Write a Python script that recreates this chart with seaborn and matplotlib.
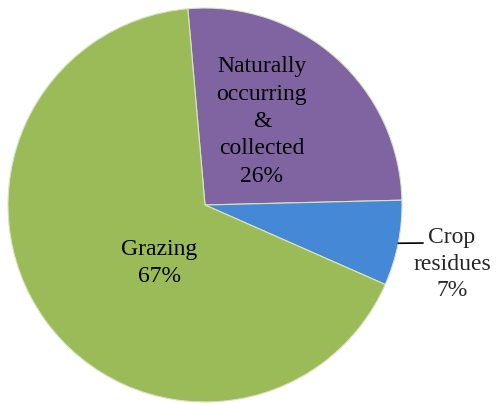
import matplotlib
matplotlib.use("Agg")
import matplotlib.pyplot as plt
import numpy as np
import seaborn as sns

labels = ["Naturally\noccurring\n&\ncollected", "Crop\nresidues", "Grazing"]
shares = [26, 7, 67]
colors = ["#8064A2", "#4589D6", "#9BBB59"]

sns.set_theme(style="white")
plt.rcParams["font.family"] = ["Liberation Serif", "DejaVu Serif"]

fig = plt.figure(figsize=(4.96, 4.03), dpi=100)
ax = fig.add_axes([0, 0, 1, 1])
ax.axis("off")

start = 95
wedges, _ = ax.pie(shares, colors=colors, startangle=start, counterclock=False,
                   radius=1, wedgeprops=dict(edgecolor="#d8e4c0", linewidth=0.8))

# inside labels for the two big slices
ax.text(0.289, 0.424, f"{labels[0]}\n{shares[0]}%", ha="center", va="center",
        fontsize=17, linespacing=1.4, color="black")
ax.text(-0.231, -0.294, f"{labels[2]}\n{shares[2]}%", ha="center", va="center",
        fontsize=17, linespacing=1.4, color="black")

# crop residues: outside label plus a short leader line from the slice edge
mid = np.deg2rad(start - (shares[0] + shares[1] / 2) * 3.6)
ax.annotate("", xy=(np.cos(mid), np.sin(mid)), xytext=(1.107, -0.193),
            arrowprops=dict(arrowstyle="-", color="black", lw=1.2,
                            shrinkA=0, shrinkB=0))
ax.text(1.254, -0.30, f"{labels[1]}\n{shares[1]}%", ha="center", va="center",
        fontsize=17, linespacing=1.35)

ax.set_xlim(-205 / 197, 291 / 197)
ax.set_ylim(-198 / 197, 205 / 197)
ax.set_aspect("auto")

fig.savefig("out.png", dpi=100)
